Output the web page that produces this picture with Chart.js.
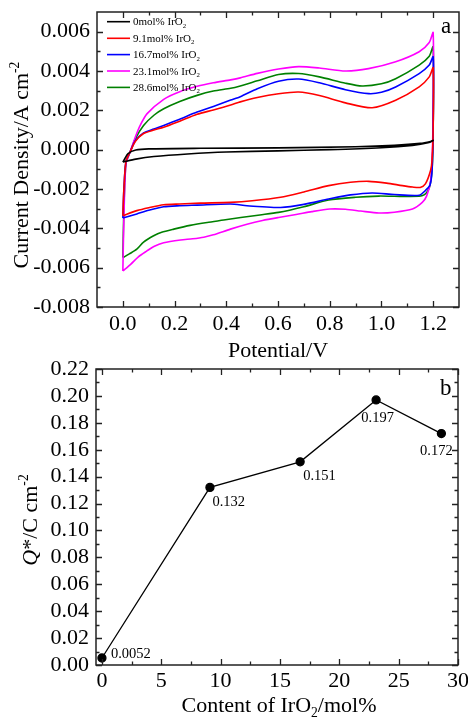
<!DOCTYPE html>
<html><head><meta charset="utf-8">
<script src="https://cdn.jsdelivr.net/npm/chart.js@4.4.1/dist/chart.umd.min.js"></script>
<style>
html,body{margin:0;padding:0;background:#fff;}
#wrap{position:relative;width:468px;height:717px;overflow:hidden;background:#fff;}
canvas{position:absolute;left:0;}
#c1{top:0;}
#c2{top:350px;}
</style></head><body>
<div id="wrap">
<canvas id="c1" width="468" height="365"></canvas>
<canvas id="c2" width="468" height="367"></canvas>
</div>
<script>
// ---------- DATA: cyclic voltammograms (Potential/V, Current density/A cm^-2) ----------
const seriesNames = ['0mol% IrO2', '9.1mol% IrO2', '16.7mol% IrO2', '23.1mol% IrO2', '28.6mol% IrO2'];
const cv0V = [0,0.008,0.020,0.050,0.100,0.300,0.600,0.900,1.050,1.150,1.190,1.200,1.180,1.120,1.000,0.800,0.600,0.400,0.250,0.120,0.050,0];
const cv0I = [-0.00063,-0.00045,-0.00020,-0.00002,0.00004,0.00007,0.00009,0.00015,0.00022,0.00032,0.00042,0.00047,0.00035,0.00022,0.00010,0.0,-0.00006,-0.00012,-0.00022,-0.00035,-0.00048,-0.00063];
const cv9V = [0,0.004,0.012,0.028,0.048,0.080,0.120,0.158,0.220,0.287,0.350,0.417,0.454,0.520,0.602,0.680,0.760,0.861,0.964,1.055,1.146,1.185,1.200,1.200,1.196,1.190,1.170,1.150,1.120,1.081,1.020,0.951,0.880,0.796,0.700,0.610,0.500,0.416,0.300,0.220,0.158,0.100,0.054,0];
const cv9I = [-0.00336,-0.0020,-0.0006,-0.00012,0.00042,0.00082,0.00100,0.00114,0.00145,0.00180,0.00202,0.00227,0.00243,0.00265,0.00284,0.00293,0.00275,0.00238,0.00213,0.00251,0.00319,0.00370,0.00416,0.0010,-0.0005,-0.00106,-0.00174,-0.00192,-0.00190,-0.00183,-0.00170,-0.00161,-0.00166,-0.00183,-0.00215,-0.00242,-0.00260,-0.00268,-0.00272,-0.00276,-0.00280,-0.00295,-0.00310,-0.00336];
const cv16V = [0,0.004,0.012,0.028,0.048,0.080,0.120,0.158,0.220,0.287,0.350,0.417,0.454,0.520,0.602,0.680,0.760,0.861,0.951,1.000,1.055,1.146,1.185,1.200,1.200,1.196,1.188,1.170,1.146,1.050,0.964,0.880,0.796,0.700,0.610,0.540,0.480,0.416,0.287,0.220,0.158,0.100,0.054,0];
const cv16I = [-0.00348,-0.0020,-0.0006,-0.00012,0.00045,0.00085,0.00105,0.00123,0.00155,0.00191,0.00220,0.00252,0.00269,0.00310,0.00348,0.00359,0.00340,0.00305,0.00285,0.00292,0.00319,0.00387,0.00430,0.00472,0.0010,-0.0010,-0.0018,-0.00208,-0.00232,-0.00228,-0.00220,-0.00230,-0.00251,-0.00278,-0.00294,-0.00290,-0.00285,-0.00276,-0.00282,-0.00285,-0.00290,-0.00308,-0.00327,-0.00348];
const cv23V = [0,0.004,0.012,0.028,0.048,0.067,0.093,0.158,0.220,0.287,0.350,0.417,0.454,0.520,0.602,0.680,0.760,0.861,0.950,1.055,1.146,1.185,1.200,1.200,1.196,1.190,1.175,1.158,1.120,1.050,0.990,0.920,0.861,0.800,0.731,0.670,0.602,0.540,0.480,0.416,0.350,0.313,0.270,0.223,0.158,0.120,0.093,0.060,0.030,0];
const cv23I = [-0.00617,-0.0035,-0.0007,-0.00012,0.00063,0.00123,0.00182,0.00256,0.00295,0.00322,0.00340,0.00355,0.00365,0.00388,0.00410,0.00422,0.00415,0.00400,0.00412,0.00447,0.00498,0.00545,0.00595,0.0020,-0.0005,-0.0016,-0.00235,-0.00268,-0.00302,-0.00318,-0.00322,-0.00312,-0.00303,-0.00302,-0.00315,-0.00330,-0.00345,-0.00360,-0.00379,-0.00404,-0.00433,-0.00445,-0.00453,-0.00459,-0.00473,-0.00492,-0.00515,-0.00545,-0.00583,-0.00617];
const cv28V = [0,0.004,0.012,0.028,0.048,0.080,0.120,0.158,0.220,0.287,0.350,0.417,0.454,0.520,0.602,0.680,0.760,0.861,0.925,1.000,1.055,1.146,1.185,1.200,1.200,1.196,1.188,1.180,1.165,1.146,1.050,0.990,0.900,0.796,0.700,0.602,0.530,0.456,0.390,0.326,0.260,0.197,0.150,0.119,0.080,0.054,0.025,0];
const cv28I = [-0.00549,-0.0030,-0.0007,-0.00012,0.00055,0.00123,0.00175,0.00208,0.00245,0.00276,0.00298,0.00312,0.00324,0.00350,0.00382,0.00387,0.00370,0.00338,0.00324,0.00335,0.00361,0.00430,0.00475,0.00523,0.0010,-0.0010,-0.0018,-0.00208,-0.00230,-0.00237,-0.00237,-0.00236,-0.00242,-0.00256,-0.00290,-0.00319,-0.00332,-0.00345,-0.00358,-0.00370,-0.00385,-0.00404,-0.00420,-0.00438,-0.00470,-0.00506,-0.00530,-0.00549];
const cvXTicks = [0, 0.2, 0.4, 0.6, 0.8, 1.0, 1.2];
const cvYTicks = [-0.008, -0.006, -0.004, -0.002, 0, 0.002, 0.004, 0.006];

// ---------- DATA: charge vs IrO2 content ----------
const irContent = [0, 9.1, 16.7, 23.1, 28.6];
const qCharge = [0.0052, 0.132, 0.151, 0.197, 0.172];
const qLabels = ['0.0052', '0.132', '0.151', '0.197', '0.172'];
const qXTicks = [0, 5, 10, 15, 20, 25, 30];
const qYTicks = [0, 0.02, 0.04, 0.06, 0.08, 0.10, 0.12, 0.14, 0.16, 0.18, 0.20, 0.22];

// ---------- STYLE ----------
const FONT = "'Liberation Serif','Times New Roman',Times,serif";
const seriesColors = ['#000000', '#ff0000', '#0000ff', '#ff00ff', '#008000'];
const cvV = [cv0V, cv9V, cv16V, cv23V, cv28V];
const cvI = [cv0I, cv9I, cv16I, cv23I, cv28I];

function rich(ctx, segs, x, y, size, rot, align) {
  ctx.save();
  ctx.translate(x, y);
  ctx.rotate(rot || 0);
  let w = 0;
  const parts = segs.map(s => {
    const fs = (s.sub || s.sup) ? size * 0.62 : size;
    const f = (s.italic ? 'italic ' : '') + fs + 'px ' + FONT;
    ctx.font = f;
    const mw = ctx.measureText(s.t).width;
    w += mw;
    return {s, f, mw};
  });
  let cx = align === 'left' ? 0 : -w / 2;
  ctx.textAlign = 'left';
  ctx.textBaseline = 'alphabetic';
  ctx.fillStyle = '#000';
  parts.forEach(p => {
    ctx.font = p.f;
    const dy = p.s.sup ? -size * 0.40 : (p.s.sub ? size * 0.22 : 0);
    ctx.fillText(p.s.t, cx, dy + size * 0.33);
    cx += p.mw;
  });
  ctx.restore();
}
function splitSub(label) {
  const m = label.match(/^(.*IrO)(2)(.*)$/);
  if (!m) return [{t: label}];
  return [{t: m[1]}, {t: m[2], sub: true}, {t: m[3]}];
}
function noPad(s) { s.paddingTop = 0; s.paddingBottom = 0; s.paddingLeft = 0; s.paddingRight = 0; }

function frameAndTicks(chart) {
  const ctx = chart.ctx;
  const {left, right, top, bottom} = chart.chartArea;
  const xs = chart.scales.x, ys = chart.scales.y;
  ctx.save();
  ctx.strokeStyle = '#222';
  ctx.lineWidth = 1.3;
  const mids = a => a.slice(1).map((v, i) => (v + a[i]) / 2);
  const xv = xs.ticks.map(t => t.value), yv = ys.ticks.map(t => t.value);
  ctx.beginPath();
  const drawX = (vals, len) => vals.forEach(v => {
    const p = Math.round(xs.getPixelForValue(v)) + 0.5;
    ctx.moveTo(p, bottom); ctx.lineTo(p, bottom - len);
    ctx.moveTo(p, top); ctx.lineTo(p, top + len);
  });
  const drawY = (vals, len) => vals.forEach(v => {
    const p = Math.round(ys.getPixelForValue(v)) + 0.5;
    ctx.moveTo(left, p); ctx.lineTo(left + len, p);
    ctx.moveTo(right, p); ctx.lineTo(right - len, p);
  });
  drawX(xv, 6); drawX(mids(xv), 3.5);
  drawY(yv, 6); drawY(mids(yv), 3.5);
  ctx.stroke();
  ctx.lineWidth = 1.5;
  ctx.strokeRect(left, top, right - left, bottom - top);
  ctx.restore();
}

const tickFont = {family: FONT, size: 22};

// ---------- Chart a ----------
new Chart(document.getElementById('c1'), {
  type: 'scatter',
  data: {
    datasets: seriesNames.map((name, k) => ({
      label: name,
      data: cvV[k].map((v, i) => ({x: v, y: cvI[k][i]})),
      showLine: true,
      borderColor: seriesColors[k],
      borderWidth: 1.6,
      pointRadius: 0,
      tension: 0.25,
      fill: false
    }))
  },
  options: {
    responsive: false,
    animation: false,
    layout: {padding: {top: 12, right: 9, left: 0, bottom: 0}},
    plugins: {legend: {display: false}, tooltip: {enabled: false}},
    scales: {
      x: {
        type: 'linear', min: -0.1, max: 1.3,
        afterBuildTicks: s => { s.ticks = cvXTicks.map(v => ({value: v})); },
        afterFit: s => { s.height = 58; noPad(s); },
        grid: {display: false, drawTicks: false},
        border: {display: false},
        ticks: {font: tickFont, color: '#000', padding: 4, autoSkip: false, maxRotation: 0,
                callback: v => Number(v).toFixed(1)}
      },
      y: {
        type: 'linear', min: -0.008, max: 0.007,
        afterBuildTicks: s => { s.ticks = cvYTicks.map(v => ({value: v})); },
        afterFit: s => { s.width = 97; noPad(s); },
        grid: {display: false, drawTicks: false},
        border: {display: false},
        ticks: {font: tickFont, color: '#000', padding: 7, autoSkip: false,
                callback: v => Number(v).toFixed(3)}
      }
    }
  },
  plugins: [{
    id: 'deco1',
    afterDatasetsDraw(chart) {
      frameAndTicks(chart);
      const ctx = chart.ctx;
      const rows = [21.7, 38.3, 54.6, 71, 87.4];
      chart.data.datasets.forEach((ds, k) => {
        ctx.save();
        ctx.strokeStyle = ds.borderColor; ctx.lineWidth = 1.6;
        ctx.beginPath(); ctx.moveTo(107, rows[k]); ctx.lineTo(130, rows[k]); ctx.stroke();
        ctx.restore();
        rich(ctx, splitSub(ds.label), 133, rows[k], 11, 0, 'left');
      });
      ctx.save(); ctx.font = '23px ' + FONT; ctx.fillStyle = '#000'; ctx.textBaseline = 'alphabetic';
      ctx.fillText('a', 441, 33); ctx.restore();
      rich(ctx, [{t: 'Potential/V'}], 278, 350, 22, 0);
      rich(ctx, [{t: 'Current Density/A cm'}, {t: '-2', sup: true}], 21, 165, 22, -Math.PI / 2);
    }
  }]
});

// ---------- Chart b ----------
const labelPlace = [
  {dx: 9, dy: -5, align: 'left'},
  {dx: 2.5, dy: 14, align: 'left'},
  {dx: 3, dy: 13, align: 'left'},
  {dx: 1.5, dy: 17, align: 'center'},
  {dx: -5, dy: 17, align: 'center'}
];
new Chart(document.getElementById('c2'), {
  type: 'scatter',
  data: {
    datasets: [{
      label: 'Q*',
      data: irContent.map((x, i) => ({x: x, y: qCharge[i]})),
      showLine: true,
      borderColor: '#000',
      borderWidth: 1.3,
      pointRadius: 4,
      pointBackgroundColor: '#000',
      pointBorderColor: '#000',
      tension: 0
    }]
  },
  options: {
    responsive: false,
    animation: false,
    layout: {padding: {top: 19, right: 10, left: 0, bottom: 0}},
    plugins: {legend: {display: false}, tooltip: {enabled: false}},
    scales: {
      x: {
        type: 'linear', min: -0.5, max: 30,
        afterBuildTicks: s => { s.ticks = qXTicks.map(v => ({value: v})); },
        afterFit: s => { s.height = 52; noPad(s); },
        grid: {display: false, drawTicks: false},
        border: {display: false},
        ticks: {font: tickFont, color: '#000', padding: 3, autoSkip: false, maxRotation: 0,
                callback: v => String(v)}
      },
      y: {
        type: 'linear', min: 0, max: 0.22,
        afterBuildTicks: s => { s.ticks = qYTicks.map(v => ({value: v})); },
        afterFit: s => { s.width = 96; noPad(s); },
        grid: {display: false, drawTicks: false},
        border: {display: false},
        ticks: {font: tickFont, color: '#000', padding: 7, autoSkip: false,
                callback: v => Number(v).toFixed(2)}
      }
    }
  },
  plugins: [{
    id: 'deco2',
    afterDatasetsDraw(chart) {
      frameAndTicks(chart);
      const ctx = chart.ctx;
      const xs = chart.scales.x, ys = chart.scales.y;
      irContent.forEach((x, i) => {
        const px = xs.getPixelForValue(x), py = ys.getPixelForValue(qCharge[i]);
        const lp = labelPlace[i];
        rich(ctx, [{t: qLabels[i]}], px + lp.dx, py + lp.dy, 14.5, 0, lp.align);
      });
      ctx.save(); ctx.font = '23px ' + FONT; ctx.fillStyle = '#000'; ctx.textBaseline = 'alphabetic';
      ctx.fillText('b', 440, 45); ctx.restore();
      rich(ctx, [{t: 'Content of IrO'}, {t: '2', sub: true}, {t: '/mol%'}], 279, 355, 22, 0);
      rich(ctx, [{t: 'Q', italic: true}, {t: '*/C cm'}, {t: '-2', sup: true}], 30, 170, 22, -Math.PI / 2);
    }
  }]
});
</script>
</body></html>
